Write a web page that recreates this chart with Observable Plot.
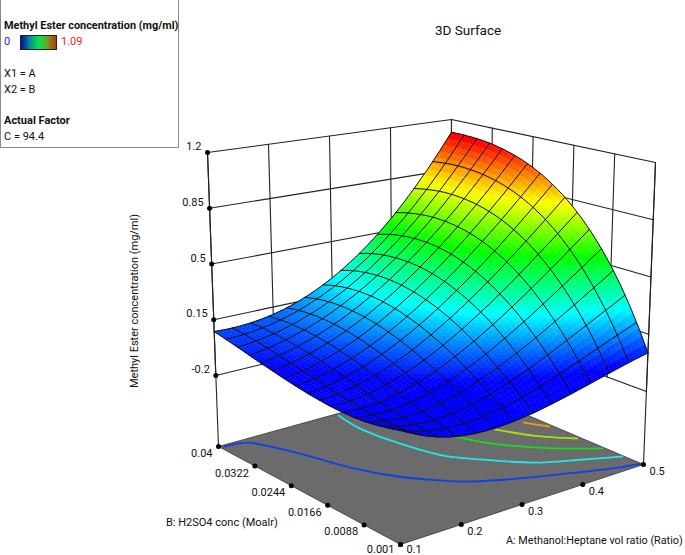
<!DOCTYPE html><html><head><meta charset="utf-8">
<script src="https://cdn.jsdelivr.net/npm/d3@7"></script>
<script src="https://cdn.jsdelivr.net/npm/@observablehq/plot@0.6"></script>
<style>html,body{margin:0;padding:0;background:#fff;font-family:Roboto,sans-serif}
#w{position:relative;width:685px;height:555px;overflow:hidden}
.t{position:absolute;white-space:nowrap;color:#111;font-size:11px;line-height:14px}
</style></head><body><div id="w"></div>
<script>
// Axis ticks
const zTicks=[1.2,.85,.5,.15,-.2];
const aTicks=[.1,.2,.3,.4,.5];
const bTicks=[.04,.0322,.0244,.0166,.0088,.001];
const zFloor=-0.646;
// Surface heights (mg/ml x 1000): rows B 0.001 to 0.04, columns A 0.1 to 0.5
const zRows=[
[-10,-50,-83,-109,-129,-143,-151,-154,-153,-148,-139,-128,-113,-97,-79,-60,-40,-20,0,19,36],
[-27,-60,-87,-107,-121,-128,-130,-128,-120,-108,-93,-74,-53,-29,-3,24,52,81,110,139,167],
[-39,-67,-88,-102,-110,-112,-109,-100,-87,-69,-48,-23,5,35,68,102,138,175,212,249,287],
[-49,-71,-86,-95,-98,-95,-86,-72,-54,-31,-4,26,59,95,134,175,217,261,306,351,397],
[-56,-72,-82,-86,-84,-76,-63,-44,-21,6,37,72,111,152,196,242,291,340,392,444,497],
[-60,-71,-76,-76,-69,-57,-39,-17,10,42,77,116,159,205,253,304,358,413,470,528,588],
[-61,-68,-69,-63,-53,-37,-16,10,41,76,115,157,204,253,306,361,419,479,541,605,670],
[-60,-62,-59,-50,-36,-17,7,36,70,108,150,195,245,297,353,412,474,538,604,673,743],
[-57,-55,-49,-37,-19,3,30,61,97,137,182,230,282,337,396,458,523,591,661,734,809],
[-51,-47,-37,-22,-3,22,51,85,122,165,211,261,315,373,434,498,566,637,711,787,867],
[-45,-37,-25,-8,14,40,71,106,145,189,237,288,344,403,466,533,603,677,754,834,917],
[-36,-26,-12,6,30,57,89,125,166,210,259,312,369,429,494,563,635,711,791,874,961],
[-26,-15,0,20,44,73,105,142,183,228,277,331,389,451,517,587,661,739,822,908,998],
[-15,-3,13,33,58,86,119,156,197,242,292,346,404,467,534,605,681,761,846,936,1030],
[-3,9,25,45,70,98,130,167,207,253,302,356,415,478,546,618,696,778,865,958,1055],
[9,21,37,56,79,107,138,174,214,259,308,362,420,484,552,626,705,789,879,974,1075],
[22,33,47,65,87,113,143,178,217,260,309,362,420,484,553,628,709,795,887,986,1091],
[36,44,57,72,92,116,144,177,215,257,304,357,415,479,549,625,707,796,891,993,1102],
[50,55,64,77,94,116,142,172,208,249,295,347,405,469,539,616,700,791,891,995,1108],
[63,65,70,80,93,111,134,163,196,235,280,331,388,453,524,602,688,781,883,993,1111],
[76,73,74,79,89,103,123,148,179,216,259,309,366,430,502,582,670,767,873,987,1111]];
// Floor contours: [A,B] pairs
const contour1=[[.106,.0396],[.141,.0389],[.160,.0357],[.180,.0310],[.201,.0245],[.232,.0185],[.268,.0140],[.293,.0115],[.349,.0081],[.409,.0052],[.463,.0026],[.5,.0014]];
const contour2=[[.302,.0394],[.296,.0347],[.302,.0286],[.324,.0203],[.356,.0160],[.399,.0110],[.454,.0076],[.498,.0050]];
const contour3=[[.375,.0257],[.394,.0206],[.432,.0151],[.463,.0119],[.497,.0089]];
const contour4=[[.435,.0231],[.459,.0183],[.495,.0138]];
const contour5=[[.479,.0227],[.495,.0195]];
const contourColors=["#1040e8","#22e6e6","#12dc20","#a6e010","#f09a10"];

// Axonometric box that maps (A,B,z) into the view
const box3={c000:[400,544],c100:[643,464],c110:[450,382],c010:[218,446],c001:[399,211],c101:[655,162],c111:[451,119],c011:[207,152]};
const zK=1.846;
const U=a=>(a-.1)/.4,V=b=>(b-.001)/.039,W=z=>(z-zFloor)/zK;
function Q(u,v,z){const w=W(z),f=k=>{const c=i=>box3["c"+i][k];
 return (1-u)*(1-v)*(1-w)*c("000")+u*(1-v)*(1-w)*c("100")+u*v*(1-w)*c("110")+(1-u)*v*(1-w)*c("010")
 +(1-u)*(1-v)*w*c("001")+u*(1-v)*w*c("101")+u*v*w*c("111")+(1-u)*v*w*c("011")};return {x:f(0),y:f(1)}}
const G=20;
const zAt=(u,v)=>{const a=Math.min(G-1,Math.floor(u*G)),b=Math.min(G-1,Math.floor(v*G)),s=u*G-a,t=v*G-b;
 return ((1-s)*(1-t)*zRows[b][a]+s*(1-t)*zRows[b][a+1]+(1-s)*t*zRows[b+1][a]+s*t*zRows[b+1][a+1])/1000};
const sub=3,cells=[];let id=0;
const order=[];for(let i=0;i<G*sub;i++)for(let j=0;j<G*sub;j++)order.push([i,j]);order.sort((a,b)=>(b[0]+b[1])-(a[0]+a[1]));
for(const [i,j] of order){const m=G*sub,u0=j/m,u1=(j+1)/m,v0=i/m,v1=(i+1)/m,zc=zAt((u0+u1)/2,(v0+v1)/2);id++;
 for(const [u,v] of [[u0,v0],[u1,v0],[u1,v1],[u0,v1],[u0,v0]])cells.push({...Q(u,v,zAt(u,v)),id,z:zc})}
const Nu=13,Nv=16,mesh=[];
for(let i=0;i<=Nv;i++)for(let k=0;k<=40;k++)mesh.push({...Q(k/40,i/Nv,zAt(k/40,i/Nv)),id:"a"+i});
for(let i=0;i<=Nu;i++)for(let k=0;k<=40;k++)mesh.push({...Q(i/Nu,k/40,zAt(i/Nu,k/40)),id:"b"+i});
const floor=[[0,0],[1,0],[1,1],[0,1],[0,0]].map(([u,v])=>Q(u,v,zFloor));
const wall=[];
for(const z of zTicks)wall.push({...Q(0,1,z),id:"l"+z},{...Q(1,1,z),id:"l"+z},{...Q(1,0,z),id:"l"+z});
for(const a of aTicks)wall.push({...Q(U(a),1,-.2),id:"a"+a},{...Q(U(a),1,1.2),id:"a"+a});
for(const b of bTicks)wall.push({...Q(1,V(b),-.2),id:"b"+b},{...Q(1,V(b),1.2),id:"b"+b});
wall.push({...Q(0,1,1.2),id:"L"},{...Q(0,1,zFloor),id:"L"},{...Q(1,0,1.2),id:"R"},{...Q(1,0,zFloor),id:"R"});
const zl=zTicks.map(z=>({...Q(0,1,z),t:String(z)}));
const bl=bTicks.map(b=>({...Q(0,V(b),zFloor),t:String(b),off:b==.001?4.5:7}));
const al=aTicks.map(a=>({...Q(U(a),0,zFloor),t:String(a),off:a==.1?4.5:7}));
const ci=[contour1,contour2,contour3,contour4,contour5].flatMap((c,k)=>c.map(([a,b])=>({...Q(U(a),V(b),zFloor),k,c:contourColors[k]})));
const plot=Plot.plot({width:685,height:555,margin:0,style:{fontFamily:"Roboto,sans-serif",background:"transparent"},
 x:{domain:[0,685],range:[0,685],axis:null},y:{domain:[0,555],range:[0,555],axis:null},
 color:{type:"linear",domain:[0,.2725,.545,.8175,1.09],range:["#0000ff","#00ffff","#00ff00","#ffff00","#ff0000"],clamp:true,interpolate:"rgb"},
 marks:[
 Plot.line(floor,{x:"x",y:"y",fill:"#6b6b6b",stroke:"#333",strokeWidth:.8}),
 Plot.line(wall,{x:"x",y:"y",z:"id",stroke:"#222",strokeWidth:1.1}),
 Plot.line(ci,{x:"x",y:"y",z:"k",stroke:"c",strokeWidth:1.8,curve:"catmull-rom"}),
 Plot.line(cells,{x:"x",y:"y",z:"id",fill:"z",stroke:"z",strokeWidth:.5}),
 Plot.line(mesh,{x:"x",y:"y",z:"id",stroke:"#111",strokeWidth:1}),
 Plot.dot([...zl,...bl,...al],{x:"x",y:"y",r:2.5,fill:"#000"}),
 Plot.text(zl,{x:"x",y:"y",text:"t",textAnchor:"end",dx:-6,dy:-6,fontSize:11,fill:"#111"}),
 Plot.text(bl,{x:"x",y:d=>d.y+d.off,text:"t",textAnchor:"end",dx:-6,fontSize:11,fill:"#111"}),
 Plot.text(al,{x:"x",y:d=>d.y+d.off,text:"t",textAnchor:"start",dx:6,fontSize:11,fill:"#111"})
 ]});
const w=document.getElementById("w");w.append(plot);plot.style.position="absolute";plot.style.left="0";plot.style.top="0";
const T=(s,x,y,o={})=>{const d=document.createElement("div");d.className="t";d.textContent=s;d.style.left=x+"px";d.style.top=(y-7)+"px";Object.assign(d.style,o);w.append(d);return d};
const box=document.createElement("div");Object.assign(box.style,{position:"absolute",left:"0",top:"0",width:"177px",height:"147px",border:"1px solid #8a8a8a",borderTop:"none",background:"#fff"});w.append(box);
T("Methyl Ester concentration (mg/ml)",4,26,{fontWeight:700,fontSize:"10.9px"});
T("0",4,42,{color:"#1c1cf0"});T("1.09",61,42,{color:"#f01c1c"});
const r=document.createElement("div");Object.assign(r.style,{position:"absolute",left:"20px",top:"35px",width:"35px",height:"13px",border:"1px solid #222",background:"linear-gradient(90deg,#00129c,#0a8a9a 25%,#00e650 50%,#6fa020 75%,#c23010)"});w.append(r);
T("X1 = A",4,74);T("X2 = B",4,90);T("Actual Factor",4,121,{fontWeight:700});T("C = 94.4",4,137);
T("3D Surface",435,30,{fontSize:"13.5px"});
T("B: H2SO4 conc (Moalr)",166,523);
T("A: Methanol:Heptane vol ratio (Ratio)",506,541,{fontSize:"10.8px"});
const yl=T("Methyl Ester concentration (mg/ml)",135,301);yl.style.transform="translate(-50%,0) rotate(-90deg)";
</script></body></html>
